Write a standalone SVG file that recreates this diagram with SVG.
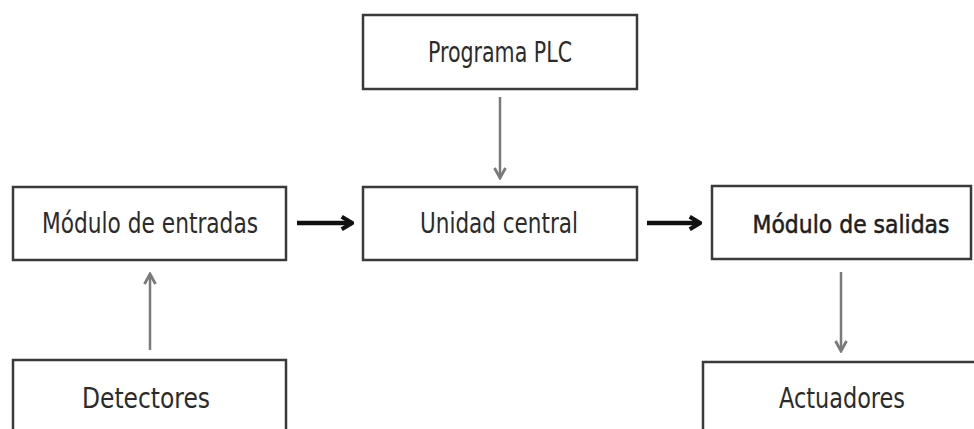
<svg xmlns="http://www.w3.org/2000/svg" width="974" height="429" viewBox="0 0 974 429">
<defs>
<style>
.box{fill:#fff;stroke:#3a3a3a;stroke-width:2.5}
.lbl{font-family:"DejaVu Sans Condensed","DejaVu Sans",sans-serif;font-size:28px;fill:#2b2b2b;text-anchor:middle}
.gray{stroke:#7a7a7a;stroke-width:2.5;fill:none}
.blk{stroke:#111;stroke-width:4.5;fill:none}
</style>
<marker id="ag" viewBox="0 0 14 14" refX="12" refY="7" markerWidth="14" markerHeight="14" orient="auto" markerUnits="userSpaceOnUse">
<path d="M2,1.5 L12,7 L2,12.5" fill="none" stroke="#7a7a7a" stroke-width="2.8"/>
</marker>
<marker id="ab" viewBox="0 0 14 14" refX="12" refY="7" markerWidth="16" markerHeight="16" orient="auto" markerUnits="userSpaceOnUse">
<path d="M3,1.5 L12,7 L3,12.5" fill="none" stroke="#111" stroke-width="3.6"/>
</marker>
</defs>
<rect width="974" height="429" fill="#fff"/>
<g id="connectors">
<path class="gray" d="M500,97 V178" marker-end="url(#ag)"/>
<path class="blk" d="M297,223 H352" marker-end="url(#ab)"/>
<path class="blk" d="M647,223 H700" marker-end="url(#ab)"/>
<path class="gray" d="M150,350 V274" marker-end="url(#ag)"/>
<path class="gray" d="M841,272 V351" marker-end="url(#ag)"/>
</g>
<g id="programa-plc">
<rect class="box" x="363" y="15" width="274" height="74"/>
<text class="lbl" x="500" y="62" textLength="144" lengthAdjust="spacingAndGlyphs">Programa PLC</text>
</g>
<g id="modulo-entradas">
<rect class="box" x="13" y="187" width="273" height="73"/>
<text class="lbl" x="150" y="233" textLength="216" lengthAdjust="spacingAndGlyphs">Módulo de entradas</text>
</g>
<g id="unidad-central">
<rect class="box" x="363" y="187" width="274" height="73"/>
<text class="lbl" x="499" y="233" textLength="158" lengthAdjust="spacingAndGlyphs">Unidad central</text>
</g>
<g id="modulo-salidas">
<rect class="box" x="712" y="186" width="259" height="73"/>
<text class="lbl" x="851" y="233" textLength="197" lengthAdjust="spacingAndGlyphs" style="font-size:25px;fill:#1e1e1e;stroke:#1e1e1e;stroke-width:0.5">Módulo de salidas</text>
</g>
<g id="detectores">
<rect class="box" x="13" y="360" width="273" height="90"/>
<text class="lbl" x="146" y="408" textLength="128" lengthAdjust="spacingAndGlyphs">Detectores</text>
</g>
<g id="actuadores">
<rect class="box" x="703" y="362" width="290" height="90"/>
<text class="lbl" x="842" y="408" textLength="126" lengthAdjust="spacingAndGlyphs">Actuadores</text>
</g>
</svg>
